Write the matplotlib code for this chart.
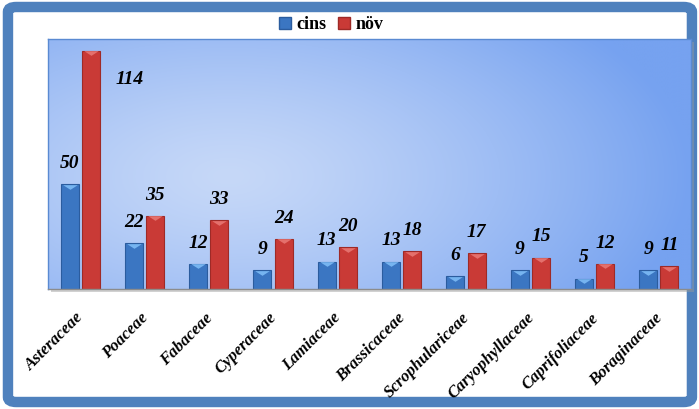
import numpy as np
import matplotlib
matplotlib.use("Agg")
import matplotlib.pyplot as plt
from matplotlib.patches import FancyBboxPatch, Rectangle, Patch
from matplotlib.colors import to_rgb
import matplotlib.transforms as mtransforms

families = ['Asteraceae', 'Poaceae', 'Fabaceae', 'Cyperaceae', 'Lamiaceae',
            'Brassicaceae', 'Scrophulariceae', 'Caryophyllaceae',
            'Caprifoliaceae', 'Boraginaceae']
cins = [50, 22, 12, 9, 13, 13, 6, 9, 5, 9]
nov = [114, 35, 33, 24, 20, 18, 17, 15, 12, 11]

BLUE = '#3B76C2'
BLUE_EDGE = '#2B5C9E'
BLUE_TOP = '#76B4F0'
RED = '#C93A36'
RED_EDGE = '#9E2A27'
RED_TOP = '#E4706C'

serif = 'Liberation Serif'

fig = plt.figure(figsize=(6.99, 4.09), dpi=100)

# rounded blue frame round the whole chart
frame = FancyBboxPatch((0.0114, 0.0171), 0.9785, 0.9658,
                       boxstyle='round,pad=0,rounding_size=0.012',
                       transform=fig.transFigure, facecolor='white',
                       edgecolor='#4F81BD', linewidth=7.5, zorder=0)
fig.patches.append(frame)

left, bottom, right, top = 0.0687, 0.2934, 0.9886, 0.9046
# soft shadow under the plot area
shadow = Rectangle((left + 3 / 699, bottom - 3 / 409), right - left, top - bottom,
                   transform=fig.transFigure, facecolor='#9A9A9A', alpha=0.45,
                   edgecolor='none', zorder=0.5)
fig.patches.append(shadow)

ax = fig.add_axes([left, bottom, right - left, top - bottom])
ax.set_zorder(2)

# radial blue gradient for the plot area
u, v = np.meshgrid(np.linspace(0, 1, 300), np.linspace(0, 1, 200))
d = np.sqrt(((u - 0.28) / 1.0) ** 2 + ((v - 0.45) / 1.3) ** 2)
t = np.clip(d / 0.72, 0, 1) ** 1.3
light = np.array(to_rgb('#C6D8F8'))
dark = np.array(to_rgb('#76A2F0'))
grad = light[None, None, :] * (1 - t[..., None]) + dark[None, None, :] * t[..., None]
ax.imshow(grad, extent=[0, 1, 0, 1], transform=ax.transAxes, aspect='auto',
          origin='lower', zorder=0, interpolation='bicubic')

x = np.arange(len(families))
w = 0.28
off = 0.165
ax.bar(x - off, cins, width=w, color=BLUE, edgecolor=BLUE_EDGE, linewidth=0.8, zorder=2)
ax.bar(x + off, nov, width=w, color=RED, edgecolor=RED_EDGE, linewidth=0.8, zorder=2)

# flat lighter bevel on each bar top
bevel = [(-1, 0.32), (1, 0.32), (0, -0.32), (-1, 0.32)]
down = mtransforms.offset_copy(ax.transData, fig=fig, x=0, y=-2.5, units='dots')
ax.scatter(x - off, cins, marker=bevel, s=110, color=BLUE_TOP, linewidths=0,
           transform=down, zorder=3)
ax.scatter(x + off, nov, marker=bevel, s=110, color=RED_TOP, linewidths=0,
           transform=down, zorder=3)

lab = dict(fontsize=14, fontweight='bold', fontstyle='italic', family=serif,
           ha='center', va='center', textcoords='offset points', zorder=4)
for xi, val in zip(x, cins):
    ax.annotate(str(val), (xi - off, val), xytext=(0, 15), **lab)
for xi, val in zip(x, nov):
    if val == max(nov):
        ax.annotate(str(val), (xi + off, val), xytext=(28, -21), **lab)
    else:
        ax.annotate(str(val), (xi + off, val), xytext=(0, 15), **lab)

ax.set_xlim(-0.5, len(families) - 0.5)
ax.set_ylim(0, 119.6)
ax.set_yticks([])
ax.set_xticks(x)
ax.set_xticklabels(families, rotation=45, ha='right', fontsize=12,
                   fontweight='bold', fontstyle='italic', family=serif)
ax.tick_params(axis='x', length=0, pad=15)
shift = mtransforms.ScaledTranslation(7 / 100, 0, fig.dpi_scale_trans)
for tl in ax.get_xticklabels():
    tl.set_transform(tl.get_transform() + shift)

for s in ax.spines.values():
    s.set_color('#5A8AD2')
    s.set_linewidth(1.0)
ax.spines['bottom'].set_color('#8C8C8C')

handles = [Patch(facecolor=BLUE, edgecolor=BLUE_EDGE, label='cins'),
           Patch(facecolor=RED, edgecolor=RED_EDGE, label='növ')]
fig.legend(handles=handles, loc='center', bbox_to_anchor=(0.4735, 0.939),
           ncol=2, frameon=False, handlelength=0.7, handleheight=0.7,
           handletextpad=0.3, columnspacing=0.6,
           prop=dict(family=serif, weight='bold', size=13))

fig.savefig('out.png', dpi=100)
